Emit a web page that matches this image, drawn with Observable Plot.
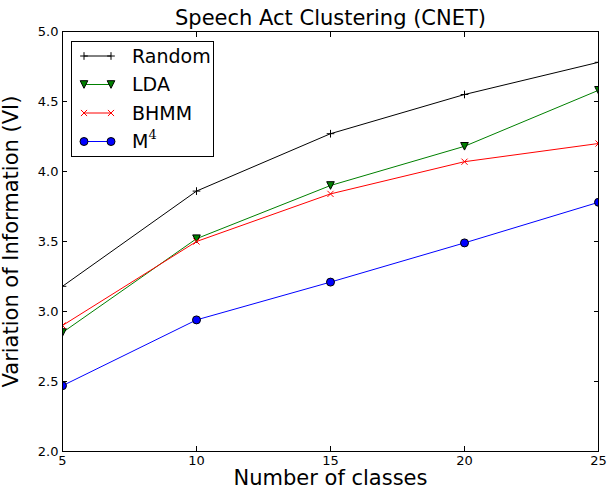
<!DOCTYPE html>
<html><head><meta charset="utf-8">
<script src="https://cdn.jsdelivr.net/npm/d3@7"></script>
<script src="https://cdn.jsdelivr.net/npm/@observablehq/plot@0.6"></script>
<style>body{margin:0;background:#fff} svg{display:block}</style>
</head><body><div id="chart"></div>
<script>
// ---- data ----
const classes = [5, 10, 15, 20, 25];
const randomVI = [3.18, 3.86, 4.27, 4.55, 4.78];
const ldaVI    = [2.85, 3.52, 3.90, 4.18, 4.58];
const bhmmVI   = [2.90, 3.50, 3.84, 4.07, 4.20];
const m4VI     = [2.47, 2.94, 3.21, 3.49, 3.78];
const seriesNames = ["Random", "LDA", "BHMM", "M4"];
const xTicks = [5, 10, 15, 20, 25];
const yTicks = [2.0, 2.5, 3.0, 3.5, 4.0, 4.5, 5.0];
const titleText = "Speech Act Clustering (CNET)";
const xLabel = "Number of classes";
const yLabel = "Variation of Information (VI)";

// ---- styles ----
const triangleDown = {
  draw(context, size) {
    const h = Math.sqrt(size / Math.PI);
    context.moveTo(-h, -h);
    context.lineTo(h, -h);
    context.lineTo(0, h);
    context.closePath();
  }
};
const styles = {
  Random: {color: "#000000", symbol: "plus", r: 2.6, fill: "none", stroke: "#000000"},
  LDA:    {color: "#008000", symbol: triangleDown, r: 3.8, fill: "#008000", stroke: "#000000"},
  BHMM:   {color: "#ff0000", symbol: "times", r: 2.9, fill: "none", stroke: "#ff0000"},
  M4:     {color: "#0000ff", symbol: "circle", r: 4.0, fill: "#0000ff", stroke: "#000000"}
};
const valuesBySeries = {Random: randomVI, LDA: ldaVI, BHMM: bhmmVI, M4: m4VI};
const table = seriesNames.map(name => classes.map((c, i) => ({series: name, x: c, y: valuesBySeries[name][i]})));

const marks = [];
table.forEach(rows => {
  const s = styles[rows[0].series];
  marks.push(Plot.line(rows, {x: "x", y: "y", stroke: s.color, strokeWidth: 1, clip: true}));
  marks.push(Plot.dot(rows, {x: "x", y: "y", symbol: s.symbol, r: s.r, fill: s.fill, stroke: s.stroke, strokeWidth: 1, clip: true}));
});

const chart = Plot.plot({
  width: 612, height: 490,
  marginLeft: 62, marginRight: 14, marginTop: 31, marginBottom: 39,
  style: {fontFamily: "DejaVu Sans", background: "#fff", color: "#000", fontSize: "13px"},
  x: {domain: [5, 25]},
  y: {domain: [2, 5]},
  marks: [
    ...marks,
    Plot.axisX({anchor: "bottom", ticks: xTicks, tickSize: 0, tickPadding: 4, label: null, fontSize: 13}),
    Plot.axisX({anchor: "bottom", ticks: xTicks, tickSize: -5, tickFormat: () => "", label: null}),
    Plot.axisX({anchor: "top", ticks: xTicks, tickSize: -5, tickFormat: () => "", label: null}),
    Plot.axisY({anchor: "left", ticks: yTicks, tickSize: 0, tickPadding: 4, tickFormat: d3.format(".1f"), label: null, fontSize: 13}),
    Plot.axisY({anchor: "left", ticks: yTicks, tickSize: -5, tickFormat: () => "", label: null}),
    Plot.axisY({anchor: "right", ticks: yTicks, tickSize: -5, tickFormat: () => "", label: null}),
    Plot.frame({stroke: "#000", strokeWidth: 1}),
    Plot.text([titleText], {text: d => d, frameAnchor: "top", dy: -13, lineAnchor: "middle", fontSize: 21}),
    Plot.text([xLabel], {text: d => d, frameAnchor: "bottom", dy: 27, lineAnchor: "middle", fontSize: 21}),
    Plot.text([yLabel], {text: d => d, frameAnchor: "left", dx: -51, rotate: -90, lineAnchor: "middle", textAnchor: "middle", fontSize: 21})
  ]
});
document.getElementById("chart").appendChild(chart);

// ---- legend (inside the axes, upper left) ----
const svg = d3.select(chart);
const lg = svg.append("g").attr("transform", "translate(71,41)");
lg.append("rect").attr("x", 0.5).attr("y", 0.5).attr("width", 142).attr("height", 115)
  .attr("fill", "#fff").attr("stroke", "#000").attr("stroke-width", 1);
const symMap = {plus: d3.symbolPlus, times: d3.symbolTimes, circle: d3.symbolCircle};
seriesNames.forEach((name, i) => {
  const s = styles[name];
  const cy = 15 + i * 28.5;
  const g = lg.append("g").attr("transform", `translate(0,${cy})`);
  g.append("line").attr("x1", 13).attr("x2", 40).attr("y1", 0).attr("y2", 0)
    .attr("stroke", s.color).attr("stroke-width", 1);
  const type = typeof s.symbol === "string" ? symMap[s.symbol] : s.symbol;
  [13, 40].forEach(px => {
    g.append("path").attr("d", d3.symbol(type, Math.PI * s.r * s.r)())
      .attr("transform", `translate(${px},0)`)
      .attr("fill", s.fill).attr("stroke", s.stroke).attr("stroke-width", 1);
  });
  const t = g.append("text").attr("x", 61).attr("y", 0).attr("dy", "0.36em")
    .attr("text-anchor", "start")
    .attr("font-family", "DejaVu Sans").attr("font-size", 19).attr("fill", "#000");
  if (name === "M4") {
    t.append("tspan").text("M");
    t.append("tspan").attr("font-family", "DejaVu Serif").attr("font-size", 13).attr("dy", "-0.75em").text("4");
  } else {
    t.text(name);
  }
});
</script>
</body></html>
